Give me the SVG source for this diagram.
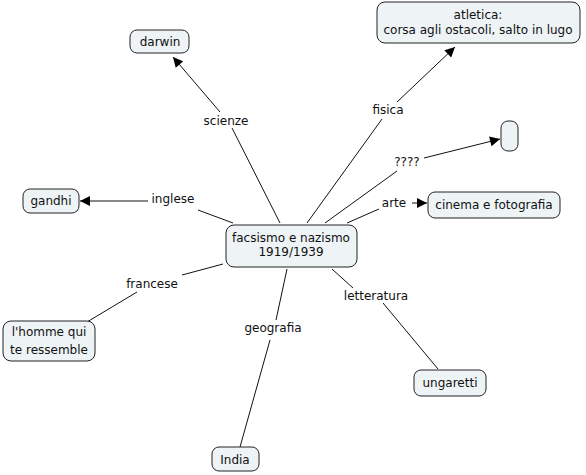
<svg xmlns="http://www.w3.org/2000/svg" width="586" height="475" viewBox="0 0 586 475">
<style>
.n{fill:#eef3f6;stroke:#222;stroke-width:1}
text{font-family:"DejaVu Sans",Verdana,sans-serif;font-size:12px;fill:#111;text-anchor:middle}
.c{stroke:#111;stroke-width:1;fill:none}
</style>
<defs>
<marker id="a" viewBox="0 0 10 10" refX="10" refY="5" markerWidth="12" markerHeight="10" markerUnits="userSpaceOnUse" orient="auto">
<path d="M0,0L10,5L0,10Z" fill="#000"/>
</marker>
</defs>
<rect width="586" height="475" fill="#fff"/>
<g id="connectors">
<line class="c" x1="280" y1="223" x2="232" y2="128"/>
<line class="c" x1="220" y1="112" x2="173" y2="57" marker-end="url(#a)"/>
<line class="c" x1="307" y1="223" x2="382" y2="119"/>
<line class="c" x1="397" y1="102" x2="455" y2="47" marker-end="url(#a)"/>
<line class="c" x1="325" y1="223" x2="397" y2="171"/>
<line class="c" x1="424" y1="158" x2="500" y2="139" marker-end="url(#a)"/>
<line class="c" x1="233" y1="223" x2="198" y2="210"/>
<line class="c" x1="148" y1="201" x2="80" y2="201" marker-end="url(#a)"/>
<line class="c" x1="347" y1="223" x2="379" y2="209"/>
<line class="c" x1="412" y1="203" x2="427" y2="203" marker-end="url(#a)"/>
<line class="c" x1="223" y1="264" x2="182" y2="275"/>
<line class="c" x1="137" y1="292" x2="87" y2="322"/>
<line class="c" x1="287" y1="269" x2="276" y2="320"/>
<line class="c" x1="270" y1="340" x2="240" y2="447"/>
<line class="c" x1="332" y1="269" x2="353" y2="288"/>
<line class="c" x1="383" y1="303" x2="438" y2="369"/>
</g>
<g id="labels">
<text x="226" y="125">scienze</text>
<text x="388" y="114">fisica</text>
<text x="407" y="166">????</text>
<text x="173" y="203">inglese</text>
<text x="394" y="207">arte</text>
<text x="152" y="288">francese</text>
<text x="273" y="332">geografia</text>
<text x="376" y="300">letteratura</text>
</g>
<g id="center"><rect class="n" x="226" y="225" width="131" height="42" rx="8"/><text x="291" y="242">facsismo e nazismo</text><text x="291" y="256">1919/1939</text></g>
<g id="atletica"><rect class="n" x="377" y="2" width="203" height="41" rx="8"/><text x="478" y="19">atletica:</text><text x="478" y="34">corsa agli ostacoli, salto in lugo</text></g>
<g id="darwin"><rect class="n" x="130" y="30" width="59" height="23" rx="7"/><text x="160" y="46">darwin</text></g>
<g id="gandhi"><rect class="n" x="23" y="189" width="56" height="24" rx="7"/><text x="51" y="205">gandhi</text></g>
<g id="empty"><rect class="n" x="501" y="121" width="17" height="30" rx="7"/></g>
<g id="cinema"><rect class="n" x="428" y="192" width="132" height="26" rx="7"/><text x="494" y="209">cinema e fotografia</text></g>
<g id="homme"><rect class="n" x="3" y="321" width="92" height="40" rx="8"/><text x="49" y="336">l'homme qui</text><text x="49" y="354">te ressemble</text></g>
<g id="ungaretti"><rect class="n" x="414" y="370" width="72" height="26" rx="7"/><text x="450" y="387">ungaretti</text></g>
<g id="india"><rect class="n" x="212" y="447" width="47" height="24" rx="7"/><text x="235" y="464">India</text></g>
</svg>
